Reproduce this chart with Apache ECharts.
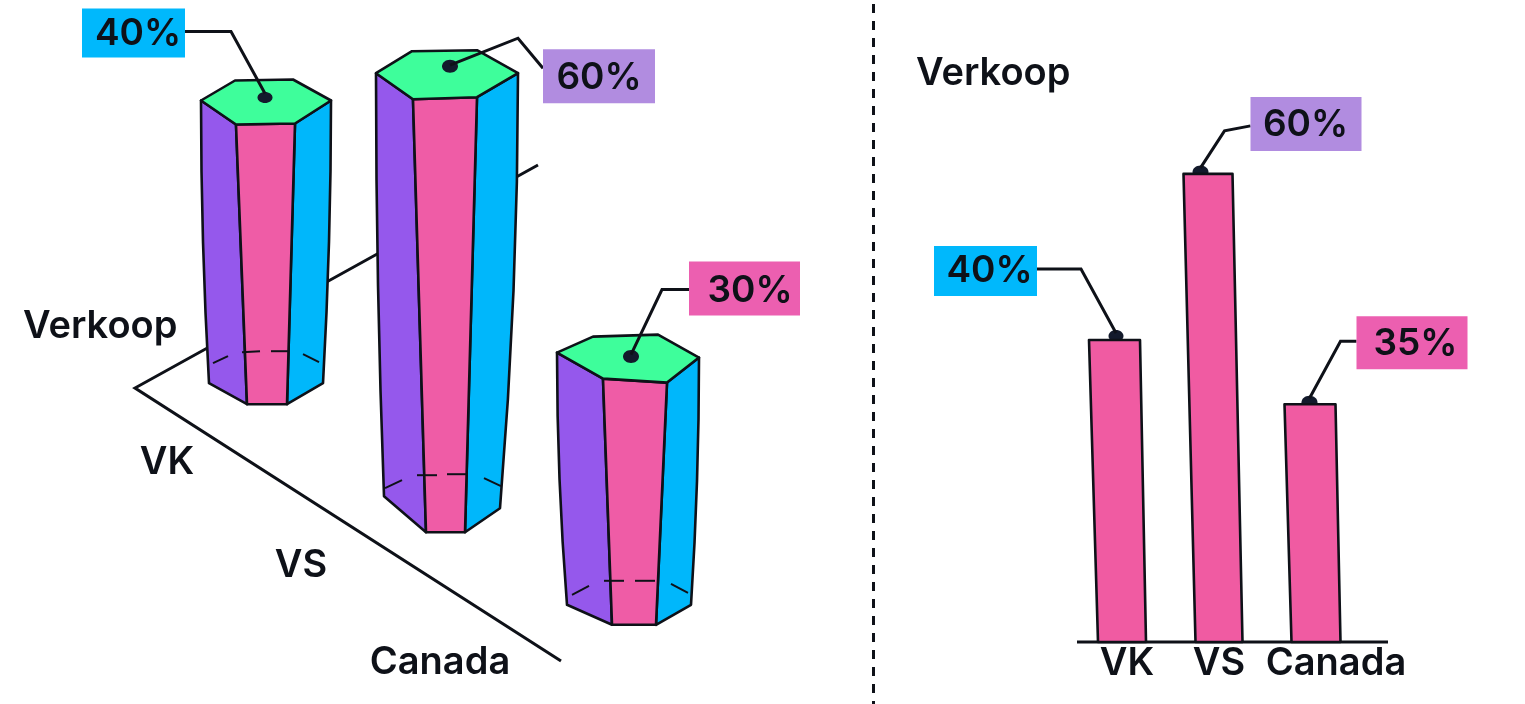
<!DOCTYPE html>
<html>
<head>
<meta charset="utf-8">
<style>html,body{margin:0;padding:0;background:#fff}#c{width:1525px;height:704px}</style>
<script src="https://cdn.jsdelivr.net/npm/echarts@6/dist/echarts.min.js"></script>
</head>
<body>
<div id="c"></div>
<script>
// ---------- data ----------
const categories = ['VK', 'VS', 'Canada'];
const axisTitle = 'Verkoop';
const prismLabels = ['40%', '60%', '30%'];     // printed on the left panel
const prismHeights = [40.1, 62, 35.6];         // drawn prism heights, axis units
const prismFloorLevels = [45.4, 27.4, 13.6];   // where each prism stands on the receding floor
const barLabels = ['40%', '60%', '35%'];       // printed on the right panel
const barHeights = [40, 62, 31.5];             // drawn bar heights, axis units

// ---------- styles ----------
const INK = '#0e1118', DOT = '#131a2c';
const PINK = '#EF5CA6', PURPLE = '#9558EC', BLUE = '#00B7FB', GREEN = '#3EFE9B';
const BOX_BLUE = '#00B8FC', BOX_PURPLE = '#B18CE0', BOX_PINK = '#EC5FB0';
const FONT_FAMILY = 'Inter, "Noto Sans", sans-serif';
const TEXT_FONT = '600 38px ' + FONT_FAMILY;
const PCT_FONT = '600 37px ' + FONT_FAMILY;

// ---------- sketch geometry, as offsets from the points the axes give ----------
const prismShape = [
  { top: [[-65,-1],[-31,-21],[27,-22],[65,-1],[29,22],[-30,23]],
    base: [[-57,1],[-19,22],[21,22],[57,1]],
    dashes: [[[-53,-19],[-38,-26]],[[-24,-30],[-6,-31]],[[5,-31],[22,-31]],[[37,-28],[53,-20]]] },
  { top: [[-71,-1],[-35,-23],[30,-24],[71,-1],[30,23],[-34,25]],
    base: [[-63,-12],[-21,24],[18,24],[53,0]],
    dashes: [[[-62,-20],[-45,-28]],[[-30,-33],[-10,-33]],[[0,-34],[20,-34]],[[37,-30],[54,-22]]] },
  { top: [[-71,-3],[-35,-19],[30,-21],[71,2],[39,27],[-25,23]],
    base: [[-61,0],[-16,20],[28,20],[63,0]],
    dashes: [[[-56,-10],[-39,-19]],[[-24,-24],[-4,-24]],[[7,-24],[27,-24]],[[43,-21],[60,-12]]] }
];
const prismCallouts = [
  { color: BOX_BLUE, box: [-184,-93,103,49], text: [-128,-68], line: [[-81,-70],[-35,-70],[-1,-8]], dot: [-1,-4,7.5,5.5] },
  { color: BOX_PURPLE, box: [96,-25,112,54], text: [152,4], line: [[96,-6],[71,-36],[3,-9]], dot: [3,-8,8,6.5] },
  { color: BOX_PINK, box: [61,-94,111,54], text: [122,-65], line: [[61,-66],[34,-66],[3,-1]], dot: [3,1,8,6.5] }
];
const prismCategoryLabel = [[-99,80],[-146,57],[-188,58]];
const barShape = [
  { bottomHalf: 24, topHalf: 25.5, lean: -7.5 },
  { bottomHalf: 23.5, topHalf: 24.5, lean: -11 },
  { bottomHalf: 24.5, topHalf: 25.5, lean: -6 }
];
const barCallouts = [
  { color: BOX_BLUE, box: [-180.5,-94,103,50], text: [-125,-69], line: [[-77.5,-71],[-33.5,-71],[1.5,-7]], dot: [1.5,-4,7.5,6] },
  { color: BOX_PURPLE, box: [42.5,-77,111,54], text: [97.5,-49], line: [[42.5,-48],[16.5,-43],[-7.5,-6]], dot: [-7.5,-2,8,6.5] },
  { color: BOX_PINK, box: [46.5,-88,111,53], text: [105.5,-60], line: [[46.5,-63],[30.5,-63],[-0.5,-6]], dot: [-0.5,-2,8,6.5] }
];

const add = (p, o) => [p[0] + o[0], p[1] + o[1]];
const lineStyle = { stroke: INK, lineWidth: 2.6, lineJoin: 'round', lineCap: 'round' };

function polygon(points, fill) {
  return { type: 'polygon', shape: { points }, style: Object.assign({ fill }, lineStyle) };
}
function calloutParts(anchor, c, label) {
  return {
    dot: { type: 'ellipse', shape: { cx: anchor[0] + c.dot[0], cy: anchor[1] + c.dot[1], rx: c.dot[2], ry: c.dot[3] }, style: { fill: DOT } },
    rest: [
      { type: 'polyline', shape: { points: c.line.map(o => add(anchor, o)) }, style: { fill: null, stroke: INK, lineWidth: 3, lineJoin: 'miter' } },
      { type: 'rect', shape: { x: anchor[0] + c.box[0], y: anchor[1] + c.box[1], width: c.box[2], height: c.box[3] }, style: { fill: c.color } },
      { type: 'text', style: { text: label, x: anchor[0] + c.text[0], y: anchor[1] + c.text[1], fill: INK, font: PCT_FONT, align: 'center', verticalAlign: 'middle' } }
    ]
  };
}

function renderPrism(params, api) {
  const i = api.value(0);
  const floorAt = api.coord([i, api.value(1)]);
  const topAt = api.coord([i, api.value(1) + api.value(2)]);
  const s = prismShape[i];
  const t = s.top.map(o => add(topAt, o));
  const b = s.base.map(o => add(floorAt, o));
  // outer edges bow gently inward towards the foot
  const bow = (from, to) => [0.25, 0.5, 0.75].map(f => [
    from[0] + (to[0] - from[0]) * f * f,
    from[1] + (to[1] - from[1]) * f
  ]);
  const leftFace = [t[0], t[5], b[1], b[0], ...bow(t[0], b[0]).reverse()];
  const midFace = [t[5], t[4], b[2], b[1]];
  const rightFace = [t[4], t[3], ...bow(t[3], b[3]), b[3], b[2]];
  const co = calloutParts(topAt, prismCallouts[i], prismLabels[i]);
  const labelAt = add(floorAt, prismCategoryLabel[i]);
  const children = [
    polygon(leftFace, PURPLE),
    polygon(rightFace, BLUE),
    polygon(midFace, PINK),
    polygon(t, GREEN)
  ];
  s.dashes.forEach(d => children.push({
    type: 'line',
    shape: { x1: floorAt[0] + d[0][0], y1: floorAt[1] + d[0][1], x2: floorAt[0] + d[1][0], y2: floorAt[1] + d[1][1] },
    style: { stroke: INK, lineWidth: 2 }
  }));
  children.push(co.dot, ...co.rest);
  children.push({ type: 'text', style: { text: categories[i], x: labelAt[0], y: labelAt[1], fill: INK, font: TEXT_FONT, align: 'center', verticalAlign: 'middle' } });
  return { type: 'group', children };
}

function renderBar(params, api) {
  const i = api.value(0);
  const base = api.coord([i, 0]);
  const top = api.coord([i, api.value(1)]);
  const s = barShape[i];
  const topAt = [base[0] + s.lean, top[1]];
  const co = calloutParts(topAt, barCallouts[i], barLabels[i]);
  return {
    type: 'group',
    children: [
      co.dot,
      polygon([
        [topAt[0] - s.topHalf, top[1]], [topAt[0] + s.topHalf, top[1]],
        [base[0] + s.bottomHalf, base[1]], [base[0] - s.bottomHalf, base[1]]
      ], '#F05BA2'),
      ...co.rest
    ]
  };
}

const chart = echarts.init(document.getElementById('c'), null, { renderer: 'canvas' });
chart.setOption({
  animation: false,
  backgroundColor: '#ffffff',
  title: [
    { text: axisTitle, left: 18, top: 303, textStyle: { fontFamily: FONT_FAMILY, fontSize: 38, fontWeight: 600, color: INK } },
    { text: axisTitle, left: 911, top: 50, textStyle: { fontFamily: FONT_FAMILY, fontSize: 38, fontWeight: 600, color: INK } }
  ],
  grid: [
    { left: 175.5, top: 0, width: 543, height: 700 },
    { left: 1073.5, top: 38, width: 291, height: 604 }
  ],
  xAxis: [
    { gridIndex: 0, type: 'category', data: categories, show: false },
    { gridIndex: 1, type: 'category', data: categories,
      axisLine: { show: false }, axisTick: { show: false },
      axisLabel: {
        margin: 3, interval: 0,
        formatter: (v, i) => '{l' + i + '|' + v + '}',
        rich: {
          l0: { fontFamily: FONT_FAMILY, fontSize: 38, fontWeight: 600, color: INK, padding: [0, 0, 0, 10] },
          l1: { fontFamily: FONT_FAMILY, fontSize: 38, fontWeight: 600, color: INK },
          l2: { fontFamily: FONT_FAMILY, fontSize: 38, fontWeight: 600, color: INK, padding: [0, 0, 0, 40] }
        }
      } }
  ],
  yAxis: [
    { gridIndex: 0, type: 'value', min: 0, max: 100, show: false },
    { gridIndex: 1, type: 'value', min: 0, max: 80, show: false }
  ],
  graphic: [
    { type: 'line', z: 0, shape: { x1: 873.5, y1: 4, x2: 873.5, y2: 704 }, style: { stroke: INK, lineWidth: 3, lineDash: [9, 8] } },
    { type: 'polyline', z: 0, shape: { points: [[538,165],[135,388],[561,661]] }, style: { fill: null, stroke: INK, lineWidth: 3 } },
    { type: 'line', z: 0, shape: { x1: 1077, y1: 642, x2: 1388, y2: 642 }, style: { stroke: INK, lineWidth: 3 } }
  ],
  series: [
    { type: 'custom', xAxisIndex: 0, yAxisIndex: 0, z: 3, clip: false, renderItem: renderPrism,
      encode: { x: 0, y: 1 },
      data: categories.map((c, i) => [i, prismFloorLevels[i], prismHeights[i]]) },
    { type: 'custom', xAxisIndex: 1, yAxisIndex: 1, z: 3, clip: false, renderItem: renderBar,
      encode: { x: 0, y: 1 },
      data: categories.map((c, i) => [i, barHeights[i]]) }
  ]
});
</script>
</body>
</html>
